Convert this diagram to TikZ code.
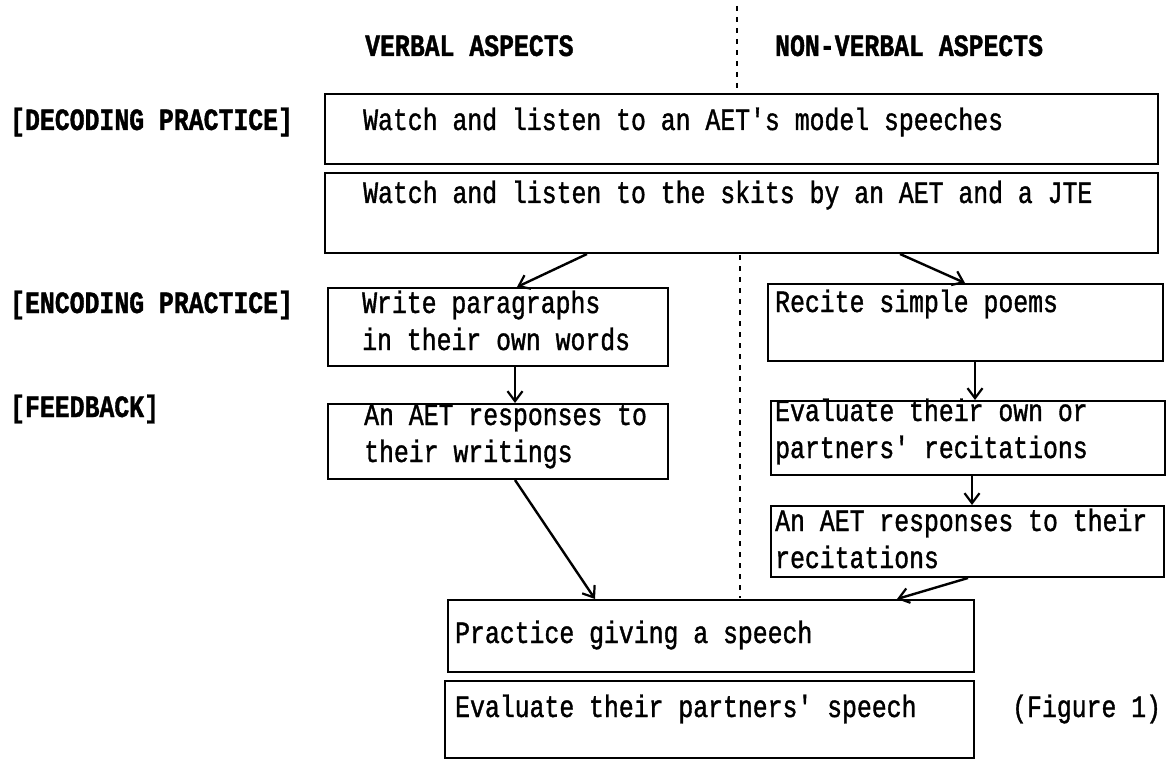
\documentclass[tikz,border=0pt]{standalone}
\usepackage{fontspec}
\newfontfamily\figfont[FakeStretch=0.8,FakeBold=1.2]{Liberation Mono}
\usetikzlibrary{arrows.meta}
\begin{document}
\begin{tikzpicture}[x=1pt,y=-1pt,
  box/.style={draw, line width=2pt, anchor=north west, inner sep=0pt},
  txt/.style={inner sep=0pt, anchor=base west, align=left, font=\figfont\fontsize{31}{37}\selectfont},
  lbl/.style={txt, font=\figfont\bfseries\fontsize{31}{37}\selectfont},
  flow/.style={line width=2.4pt, -{Straight Barb[length=10pt,width=15pt,line width=2.2pt]}},
  divider/.style={line width=1.4pt, dash pattern=on 5pt off 6pt}]
\useasboundingbox (0,0) rectangle (1166,759);
%Headings
\node[lbl] (verbal) at (365,56) {VERBAL ASPECTS};
\node[lbl] (nonverbal) at (775,56) {NON-VERBAL ASPECTS};
\node[lbl] (decoding) at (10,130) {[DECODING PRACTICE]};
\node[lbl] (encoding) at (10,313) {[ENCODING PRACTICE]};
\node[lbl] (feedback) at (10,417) {[FEEDBACK]};
\draw[divider] (737,6) -- (737,92);
\draw[divider] (740,255) -- (740,598);
%Boxes
\node[box, minimum width=833pt, minimum height=70pt] (speeches) at (324,93) {};
\node[box, minimum width=833pt, minimum height=80pt] (skits) at (324,172) {};
\node[box, minimum width=340pt, minimum height=78pt] (paragraphs) at (327,287) {};
\node[box, minimum width=340pt, minimum height=75pt] (writings) at (327,403) {};
\node[box, minimum width=395pt, minimum height=77pt] (poems) at (767,283) {};
\node[box, minimum width=394pt, minimum height=74pt] (selfeval) at (770,400) {};
\node[box, minimum width=393pt, minimum height=71pt] (aetrecit) at (770,505) {};
\node[box, minimum width=526pt, minimum height=72pt] (practice) at (447,599) {};
\node[box, minimum width=529pt, minimum height=77pt] (partners) at (444,680) {};
%Texts (two-line texts sit on the baseline of their last line)
\node[txt] (speechestxt) at (363,130) {Watch and listen to an AET's model speeches};
\node[txt] (skitstxt) at (363,203) {Watch and listen to the skits by an AET and a JTE};
\node[txt] (paragraphstxt) at (362,350) {Write paragraphs\\ in their own words};
\node[txt] (writingstxt) at (364,462) {An AET responses to\\their writings};
\node[txt] (poemstxt) at (775,312) {Recite simple poems};
\node[txt] (selfevaltxt) at (775,458) {Evaluate their own or\\partners' recitations};
\node[txt] (aetrecittxt) at (775,568) {An AET responses to their\\recitations};
\node[txt] (practicetxt) at (455,643) {Practice giving a speech};
\node[txt] (partnerstxt) at (455,717) {Evaluate their partners' speech};
\node[txt] (figure) at (1012,717) {(Figure 1)};
%Arrows
\draw[flow] ([xshift=263pt]skits.south west) -- ([xshift=190pt]paragraphs.north west);
\draw[flow] ([xshift=576pt]skits.south west) -- ([xshift=198pt]poems.north west);
\draw[flow] ([xshift=188pt]paragraphs.south west) -- ([xshift=188pt]writings.north west);
\draw[flow] ([xshift=208pt]poems.south west) -- ([xshift=205pt]selfeval.north west);
\draw[flow] ([xshift=202pt]selfeval.south west) -- ([xshift=202pt]aetrecit.north west);
\draw[flow] ([xshift=188pt]writings.south west) -- ([xshift=148pt]practice.north west);
\draw[flow] ([xshift=198pt]aetrecit.south west) -- ([xshift=450pt]practice.north west);
\end{tikzpicture}
\end{document}
